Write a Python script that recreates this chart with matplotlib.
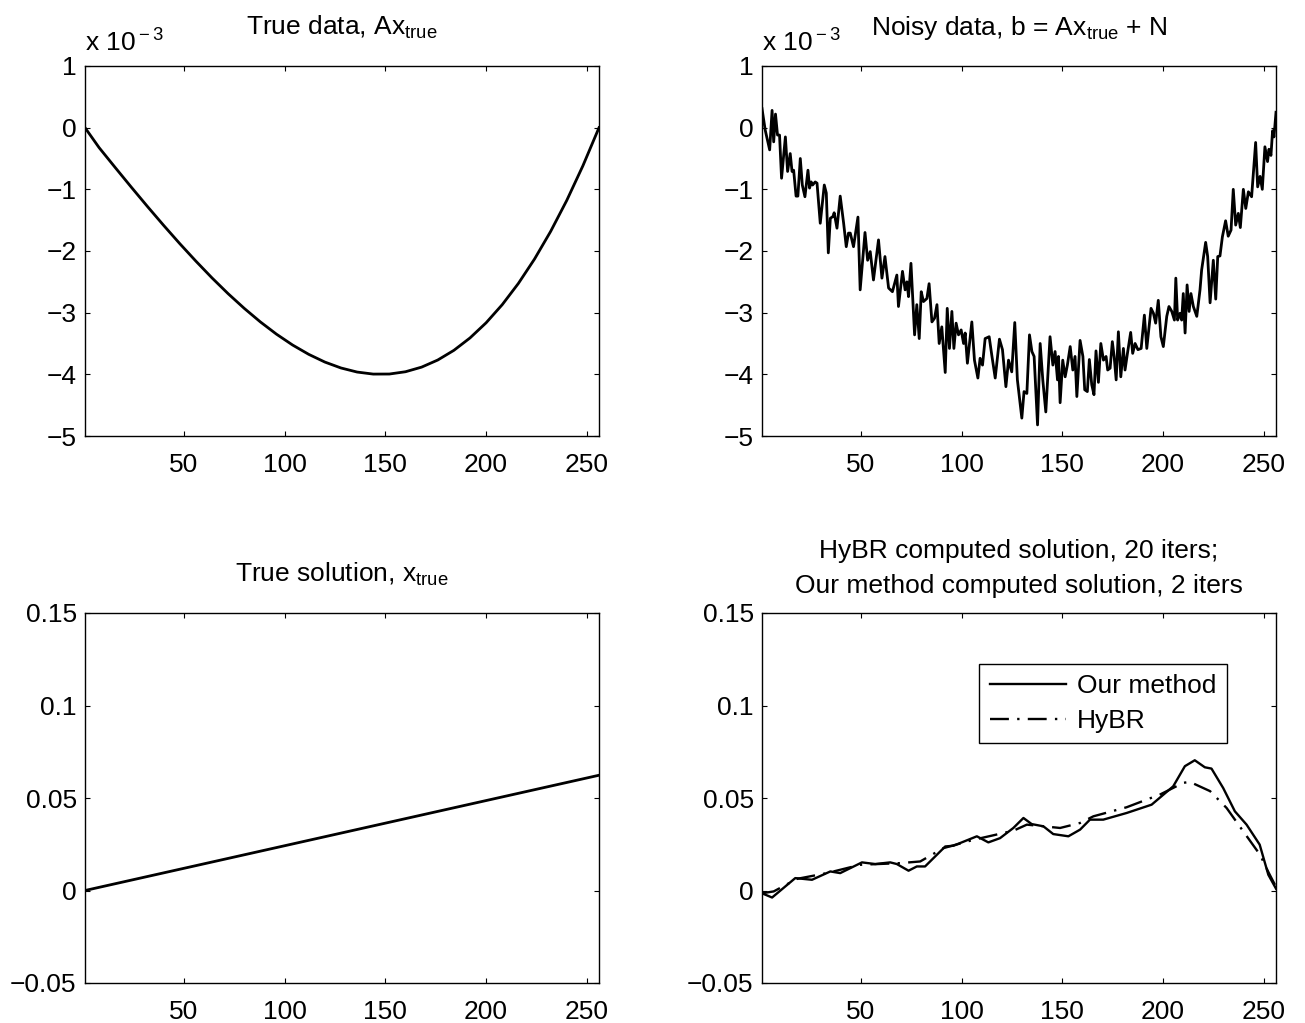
import matplotlib
matplotlib.use("Agg")
import matplotlib.pyplot as plt
from matplotlib.ticker import FuncFormatter

plt.rcParams['font.family'] = ['Liberation Sans', 'DejaVu Sans']
plt.rcParams['mathtext.fontset'] = 'custom'
plt.rcParams['mathtext.rm'] = 'Liberation Sans'
plt.rcParams['mathtext.it'] = 'Liberation Sans:italic'

# ── data ────────────────────────────────────────────────────────────────────
# top row values are in units of 1e-3
true_data_x = [1, 8, 16, 24, 32, 40, 48, 56, 64, 72, 80, 88, 96, 104, 112, 120,
               128, 136, 144, 152, 160, 168, 176, 184, 192, 200, 208, 216, 224,
               232, 240, 248, 256]
true_data_y = [0.0, -0.324, -0.647, -0.966, -1.279, -1.584, -1.880, -2.164,
               -2.436, -2.692, -2.930, -3.150, -3.349, -3.525, -3.676, -3.801,
               -3.897, -3.963, -3.996, -3.995, -3.958, -3.883, -3.768, -3.611,
               -3.410, -3.164, -2.870, -2.526, -2.131, -1.683, -1.180, -0.619, 0.0]

noisy_x = [1.0, 2.6, 4.8, 6.0, 6.8, 7.7, 8.7, 9.7, 10.7, 12.6, 13.7, 15.0, 15.9,
           16.7, 17.9, 18.8, 20.0, 21.0, 22.3, 23.8, 24.6, 25.4, 26.1, 27.4, 28.3,
           29.9, 31.9, 32.9, 33.9, 34.9, 36.2, 36.8, 38.2, 39.8, 41.5, 42.8, 43.9,
           44.8, 46.4, 48.6, 49.7, 52.1, 53.4, 54.7, 56.3, 58.8, 60.5, 62.0, 63.8,
           65.7, 67.9, 68.7, 70.7, 72.0, 72.9, 73.7, 74.9, 76.7, 77.8, 79.0, 80.0,
           81.1, 82.8, 83.9, 85.3, 86.6, 87.8, 88.9, 90.2, 91.9, 92.9, 94.0, 95.2,
           96.2, 97.3, 98.5, 99.8, 101.0, 101.8, 102.9, 105.1, 106.4, 108.1, 109.2,
           110.4, 111.7, 113.7, 115.0, 116.7, 118.8, 120.3, 122.0, 123.3, 124.9,
           126.4, 127.7, 129.9, 131.0, 132.4, 133.7, 134.9, 136.0, 137.7, 139.0,
           140.3, 141.8, 143.9, 145.3, 146.4, 147.6, 148.1, 148.9, 150.2, 151.4,
           152.5, 153.9, 155.2, 156.3, 157.2, 158.8, 160.2, 161.1, 162.4, 163.4,
           164.6, 165.7, 166.7, 167.9, 169.1, 170.4, 171.7, 172.5, 173.7, 174.8,
           175.7, 176.7, 177.8, 179.0, 180.3, 181.1, 182.3, 183.9, 184.9, 186.1,
           187.5, 189.1, 190.7, 191.9, 194.0, 195.2, 196.3, 197.6, 198.9, 200.1,
           201.8, 202.9, 204.3, 205.6, 206.3, 207.2, 208.4, 209.2, 210.0, 210.9,
           211.9, 212.9, 213.8, 215.0, 216.7, 218.3, 219.1, 221.1, 222.1, 223.3,
           224.9, 226.1, 227.1, 228.2, 229.4, 231.0, 232.3, 233.7, 234.8, 236.0,
           237.3, 238.3, 239.8, 241.0, 242.3, 243.9, 245.9, 246.9, 248.1, 249.2,
           250.5, 251.8, 252.5, 253.5, 254.3, 255.0, 256.0]
noisy_y = [0.31, -0.04, -0.36, 0.28, -0.23, 0.22, -0.12, -0.12, -0.82, -0.15,
           -0.71, -0.42, -0.71, -0.69, -1.11, -1.11, -0.50, -0.93, -1.12, -0.69,
           -0.98, -0.88, -0.93, -0.88, -0.90, -1.55, -0.93, -1.06, -2.03, -1.47,
           -1.44, -1.38, -1.63, -1.11, -1.55, -1.93, -1.71, -1.71, -1.93, -1.45,
           -2.63, -1.70, -2.15, -2.01, -2.47, -1.82, -2.44, -2.09, -2.60, -2.66,
           -2.39, -2.90, -2.33, -2.63, -2.50, -2.74, -2.20, -3.36, -2.87, -3.42,
           -2.66, -2.82, -2.77, -2.53, -3.15, -3.09, -2.87, -3.50, -3.23, -3.97,
           -2.93, -3.58, -2.98, -3.58, -3.17, -3.36, -3.28, -3.50, -3.33, -3.82,
           -3.15, -3.77, -4.06, -3.74, -3.85, -3.42, -3.39, -3.69, -4.06, -3.43,
           -3.60, -4.20, -3.77, -3.96, -3.16, -4.09, -4.71, -4.28, -4.31, -3.36,
           -3.63, -3.71, -4.82, -3.50, -4.09, -4.61, -3.39, -3.85, -3.63, -4.09,
           -3.71, -4.46, -3.77, -4.04, -3.85, -3.55, -3.93, -3.71, -4.36, -3.45,
           -3.71, -4.25, -4.28, -3.76, -4.17, -4.33, -3.62, -4.13, -3.50, -3.77,
           -3.71, -3.93, -3.90, -3.47, -3.71, -4.09, -3.31, -4.04, -3.58, -3.93,
           -3.66, -3.32, -3.66, -3.50, -3.60, -3.58, -3.04, -3.58, -2.93, -3.01,
           -3.17, -2.80, -3.39, -3.55, -3.06, -2.90, -2.98, -3.12, -2.44, -3.12,
           -3.01, -3.12, -2.69, -3.33, -2.55, -2.98, -2.69, -2.90, -3.06, -2.63,
           -2.31, -1.86, -2.09, -2.84, -2.15, -2.78, -2.09, -2.08, -1.77, -1.51,
           -1.76, -1.66, -1.00, -1.58, -1.39, -1.62, -1.00, -1.31, -1.04, -1.12,
           -0.24, -0.96, -0.79, -1.00, -0.31, -0.55, -0.35, -0.45, -0.05, -0.15,
           0.25]

true_sol_x = [1, 256]
true_sol_y = [0.0, 0.0623]

ours_x = [1, 6.0, 17.5, 25.8, 34.9, 39.8, 50.6, 57.2, 64.6, 67.9, 73.7, 77.8,
          81.9, 91.9, 96.0, 107.6, 113.3, 119.1, 125.7, 130.7, 134.8, 140.6,
          145.5, 153.0, 158.8, 163.7, 170.3, 181.9, 194.3, 205.0, 210.8, 215.7,
          220.7, 224.0, 229.8, 235.6, 241.4, 247.9, 252.2, 256]
ours_y = [-0.0015, -0.0038, 0.0067, 0.0058, 0.0103, 0.0094, 0.0152, 0.0143,
          0.0152, 0.0143, 0.0107, 0.0130, 0.0130, 0.0238, 0.0242, 0.0293, 0.0260,
          0.0283, 0.0338, 0.0392, 0.0359, 0.0347, 0.0305, 0.0293, 0.0329, 0.0383,
          0.0383, 0.0419, 0.0464, 0.0563, 0.0672, 0.0704, 0.0666, 0.0659, 0.0554,
          0.0428, 0.0356, 0.0248, 0.0085, 0.0010]

hybr_x = [1, 6.8, 18.4, 33.2, 49.7, 69.6, 79.5, 91.0, 105.9, 125.7, 132.4, 148.9,
          158.8, 165.4, 181.9, 198.5, 210.0, 213.3, 223.3, 231.5, 239.8, 248.1,
          252.2, 256]
hybr_y = [-0.0015, -0.0005, 0.0063, 0.0094, 0.0139, 0.0148, 0.0157, 0.0229,
          0.0274, 0.0323, 0.0356, 0.0338, 0.0365, 0.0401, 0.0450, 0.0519, 0.0582,
          0.0587, 0.0537, 0.0446, 0.0319, 0.0193, 0.0100, 0.0020]

x_ticks = [50, 100, 150, 200, 250]
top_yticks = [-5, -4, -3, -2, -1, 0, 1]
bot_yticks = [-0.05, 0, 0.05, 0.1, 0.15]

FS = 19
LW = 2.0


def fmt(v, _):
    return f"{v:g}".replace("-", "\u2212")


def style(ax, ylim, yticks):
    ax.set_xlim(1, 256)
    ax.set_xticks(x_ticks)
    ax.set_ylim(*ylim)
    ax.set_yticks(yticks)
    ax.yaxis.set_major_formatter(FuncFormatter(fmt))
    ax.tick_params(direction="in", top=True, right=True, length=3.6,
                   width=0.8, labelsize=FS, colors="black")
    ax.tick_params(axis="x", pad=12)
    ax.tick_params(axis="y", pad=6)
    for s in ax.spines.values():
        s.set_linewidth(1.0)


def title(ax, txt, y=1.084):
    ax.text(0.5, y, txt, transform=ax.transAxes, ha="center", va="baseline",
            fontsize=FS)


fig = plt.figure(figsize=(13.05, 10.23), dpi=100)
W, H = 514 / 1305, 370 / 1023
L1, L2 = 85 / 1305, 762 / 1305
B1, B2 = (1023 - 436) / 1023, (1023 - 983) / 1023

ax1 = fig.add_axes([L1, B1, W, H])
ax1.plot(true_data_x, true_data_y, color="black", lw=LW)
style(ax1, (-5, 1), top_yticks)
title(ax1, r"True data, Ax$_{\rm true}$")
ax1.text(0.0, 1.04, r"x 10$^{\rm -3}$", transform=ax1.transAxes,
         ha="left", va="baseline", fontsize=FS)

ax2 = fig.add_axes([L2, B1, W, H])
ax2.plot(noisy_x, noisy_y, color="black", lw=LW)
style(ax2, (-5, 1), top_yticks)
title(ax2, r"Noisy data, b = Ax$_{\rm true}$ + N")
ax2.text(0.0, 1.04, r"x 10$^{\rm -3}$", transform=ax2.transAxes,
         ha="left", va="baseline", fontsize=FS)

ax3 = fig.add_axes([L1, B2, W, H])
ax3.plot(true_sol_x, true_sol_y, color="black", lw=LW)
style(ax3, (-0.05, 0.15), bot_yticks)
title(ax3, r"True solution, x$_{\rm true}$")

ax4 = fig.add_axes([L2, B2, W, H])
ax4.plot(ours_x, ours_y, color="black", lw=1.7, label="Our method")
ax4.plot(hybr_x, hybr_y, color="black", lw=1.7, dashes=(8, 3.5, 1, 3.5),
         label="HyBR")
style(ax4, (-0.05, 0.15), bot_yticks)
title(ax4, "HyBR computed solution, 20 iters;", y=1.0 + 55 / 370)
title(ax4, "Our method computed solution, 2 iters", y=1.0 + 20 / 370)
leg = ax4.legend(loc="upper right", bbox_to_anchor=(0.904, 0.863),
                 borderaxespad=0, fancybox=False, edgecolor="black",
                 framealpha=1, fontsize=FS, handlelength=2.9,
                 handletextpad=0.4, borderpad=0.4, labelspacing=0.4)
leg.get_frame().set_linewidth(1.0)

fig.savefig("out.png", dpi=100, facecolor="white")
